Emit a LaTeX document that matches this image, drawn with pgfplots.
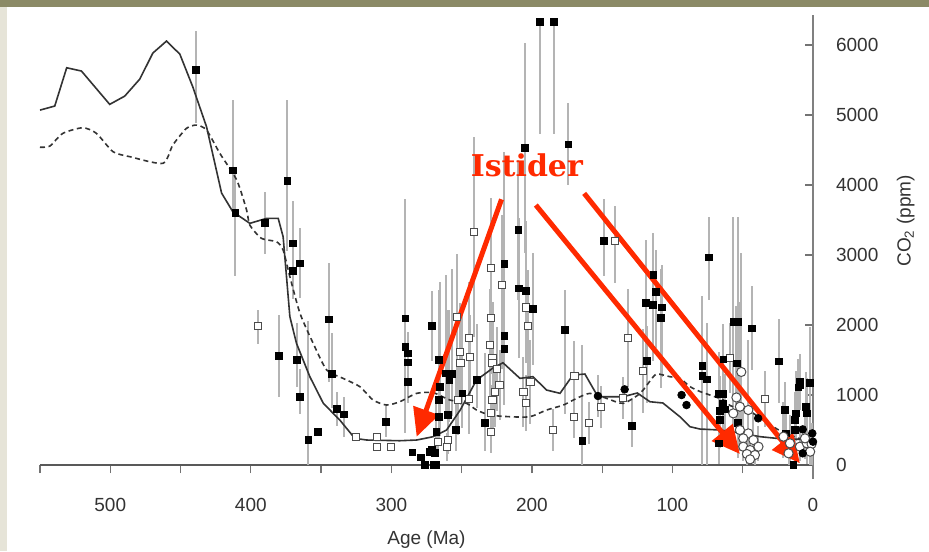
\documentclass[border=0pt]{standalone}
\usepackage{fontspec}
\setmainfont{Liberation Sans}
\newfontfamily\annofont{DejaVu Serif}
\usepackage{pgfplots}
\usepackage{pgfplotstable}
\pgfplotsset{compat=1.18}
\usetikzlibrary{arrows.meta}
\definecolor{frameolive}{HTML}{8B8A66}
\definecolor{framebeige}{HTML}{E6E4D8}
\definecolor{annored}{HTML}{FF2A00}
\definecolor{bargray}{HTML}{B4B4B4}
\definecolor{curvegray}{HTML}{333333}

% age (Ma), CO2 (ppm), error plus, error minus
\pgfplotstableread{
a c ep em
439 5640 560 760
413 4210 1000 600
411 3600 600 900
390 3460 440 440
374 4057 1160 1000
370 3167 600 600
365 2881 500 500
370 2771 400 400
380 1562 580 590
367 1500 530 380
365 976 400 250
359 357 1700 357
352 476 0 0
344.5 2081 800 900
342.5 1300 580 480
338.5 800 240 240
333.5 724 250 330
304 619 220 220
290 2095 1700 1640
290 1690 300 300
288 1595 300 300
288 1467 300 300
288 1190 300 300
285 181 0 0
279 110 0 0
276 0 0 0
271 214 0 0
268 0 0 0
269.5 0 0 0
272.5 190 0 0
269 176 0 0
271 1986 500 500
266 1500 1000 800
265.5 1119 1500 700
266 929 800 500
266 690 500 400
260 714 1500 400
268 476 500 300
261 1310 1400 600
256.7 1300 1500 600
258.7 1214 1000 600
249.5 1024 1200 500
254 500 800 300
239.4 1214 800 400
233.5 605 1000 400
219.6 2871 1600 1200
219.6 1843 800 800
219.6 1657 800 800
209 2524 1000 1000
204 2490 1000 1000
199.5 2229 800 800
209.6 3360 1000 1000
176.5 1929 570 1200
164 347 1370 347
149 3200 600 500
129 562 400 300
119 2319 900 1000
118.4 1490 500 600
113.5 2714 600 1200
111.7 2476 600 800
114 2286 700 800
107.7 2252 600 1000
108.4 2105 700 1000
74 2967 580 610
78.7 1414 1000 1414
78.7 1271 800 1271
75.6 1224 800 1224
67 1014 600 600
64 1014 600 600
64 871 500 500
66.5 776 500 500
62.6 795 500 500
66 643 400 400
67 310 300 300
63.7 1510 500 500
56.7 2048 1500 1000
53.3 2048 1500 1000
43.6 1952 600 600
54.3 1452 800 800
53.3 605 500 500
24 1481 600 600
20 786 400 400
12.8 500 400 300
9.3 1190 400 400
9.3 1143 300 300
2 1176 800 800
12 738 600 400
5 833 500 400
4.4 738 500 400
14 0 0 0
19 452 300 300
10.4 1110 400 400
12.8 643 400 400
205 4533 1500 1500
174 4581 590 580
194.3 6330 0 1600
184.3 6330 0 1600
}\fsq

\pgfplotstableread{
a c ep em
395 1986 230 250
325 405 0 0
310 405 0 0
310 262 0 0
300 252 0 0
241 3333 1350 1500
141 3204 500 600
229 2810 1000 1000
221 2571 1000 1200
229 2095 800 800
244.5 1810 800 800
251 1619 700 700
244 1538 600 600
250.8 1452 600 600
230 1714 800 800
228 1533 800 800
228 1452 700 700
225 1367 600 600
223 1143 500 500
226 1048 500 500
228 929 500 500
229 748 400 400
229 476 300 300
204 2252 800 800
203 1986 800 800
201 1190 600 600
206 1048 500 500
204 890 400 400
185 500 300 300
253.5 2119 900 900
244.5 938 500 500
252.5 929 500 500
259.6 357 200 200
260.6 262 200 200
266.6 333 200 200
169.7 1271 500 500
170 681 300 300
159.4 605 300 300
151 833 300 300
135 962 300 300
131.4 1810 700 700
121 1343 600 600
59 1524 500 500
34 938 400 400
}\osq

\pgfplotstableread{
a c ep em
51 1330 1700 900
54.5 965 1300 500
56.7 738 1200 400
46 786 1000 400
52 833 1500 500
52 500 800 300
46 452 600 300
49.6 381 500 300
42.4 357 400 300
38.8 262 300 200
49.6 262 300 200
44.8 214 300 200
47 157 200 150
41.3 143 200 140
44.8 81 0 0
21 405 500 300
16.4 310 400 300
9.3 262 300 200
4.4 310 400 300
1 300 300 300
17.4 167 200 160
2 190 200 190
5.7 381 400 300
}\ocirc

\pgfplotstableread{
a c ep em
153 986 300 300
134 1081 0 0
93.5 1000 0 0
90 857 0 0
39 667 0 0
7.3 167 0 0
7.3 509 0 0
0.5 452 0 0
0 333 0 0
}\fcirc

\pgfplotstableread{
a c
550 5071
539.5 5129
531 5676
520.5 5629
500.4 5153
489.7 5271
479 5514
469.7 5886
460 6057
450.5 5871
441.3 5404
431.5 4833
420.8 3886
412.8 3619
400.7 3453
388.8 3524
380.5 3524
377 3261
372.2 2119
367.5 1738
358 1262
348.4 881
336.7 643
326 381
317.6 357
294 347
282 357
270.4 404
260.7 500
251 786
239.4 1214
227.7 1386
220.6 1461
208.5 1238
199.3 1262
189.5 1071
180 1024
170.8 1286
162.3 1300
153 976
135 976
125 1029
116 904
106.8 886
94.7 690
87.5 547
80.4 514
66.2 500
52 457
37.7 405
23.5 376
9.3 367
0 357
}\geocarb

\pgfplotstableread{
a c
550 4540
543 4557
533.8 4738
519.6 4819
509.8 4738
498 4476
486 4405
462.6 4310
455.5 4571
445.8 4810
438.6 4857
431.5 4786
422 4452
410 4071
403 3643
400.7 3429
392.4 3238
381.7 3190
377 3071
372.2 2690
365 2167
355.6 1738
346 1357
334.3 1238
322.4 1119
313 929
303.5 857
294 904
282 1024
270.2 1033
258.4 929
246.5 881
239.4 786
229.9 714
215.7 690
201.4 690
189.5 786
177.6 857
168.2 952
158.7 1024
146.8 952
135 881
123 1024
116 1200
111.2 1300
101.8 1262
94.7 1238
87.5 1120
80.4 1050
73.3 1000
63.7 929
59 850
49.8 786
42.5 738
33 610
23.5 490
10 380
0 350
}\dashcurve

\begin{document}
\begin{tikzpicture}
\useasboundingbox (0,0) rectangle (464.5pt,-275.5pt);
\fill[framebeige] (0,0) rectangle (464.5pt,-275.5pt);
\fill[white] (3.5pt,-3.75pt) rectangle (464.5pt,-275.5pt);
\fill[frameolive] (0,0) rectangle (464.5pt,-3.75pt);
\begin{axis}[
    at={(20pt,-239.5pt)}, anchor=south west,
    scale only axis, width=386.5pt, height=232pt,
    x dir=reverse, xmin=0, xmax=550, ymin=-200, ymax=6430,
    axis x line*=middle, axis y line*=middle,
    yticklabel pos=right,
    x axis line style={black!65, line width=0.7pt, -},
    y axis line style={black!50, line width=1.1pt, -},
    xtick={0,100,200,300,400,500},
    minor xtick={50,150,250,350,450,550},
    ytick={0,1000,2000,3000,4000,5000,6000},
    xtick align=outside, ytick align=inside,
    major tick length=4pt, minor tick length=4pt,
    tick style={black!55, line width=0.6pt},
    hide obscured x ticks=false, hide obscured y ticks=false,
    /pgf/number format/assume math mode=true,
    /pgf/number format/1000 sep={},
    ticklabel style={font=\fontsize{9.5}{11}\selectfont, text=black!80},
    xticklabel style={yshift=-9pt},
    yticklabel style={anchor=west, xshift=8pt},
    xlabel={Age (Ma)}, ylabel={CO\textsubscript{2} (ppm)},
    every axis x label/.style={at={(axis cs:275,-1070)}, anchor=center,
        font=\fontsize{9.5}{11}\selectfont, text=black!80},
    every axis y label/.style={at={(axis cs:-66,3490)}, anchor=center, rotate=90,
        font=\fontsize{9.5}{11}\selectfont, text=black!80},
    clip=false,
]
% error bars first
\addplot[draw=none, mark=none, forget plot, error bars/.cd, y dir=both, y explicit,
    error mark=none, error bar style={draw=bargray, line width=1pt}]
    table[x=a, y=c, y error plus=ep, y error minus=em]{\fsq};
\addplot[draw=none, mark=none, forget plot, error bars/.cd, y dir=both, y explicit,
    error mark=none, error bar style={draw=bargray, line width=1pt}]
    table[x=a, y=c, y error plus=ep, y error minus=em]{\osq};
\addplot[draw=none, mark=none, forget plot, error bars/.cd, y dir=both, y explicit,
    error mark=none, error bar style={draw=bargray, line width=1pt}]
    table[x=a, y=c, y error plus=ep, y error minus=em]{\ocirc};
\addplot[draw=none, mark=none, forget plot, error bars/.cd, y dir=both, y explicit,
    error mark=none, error bar style={draw=bargray, line width=1pt}]
    table[x=a, y=c, y error plus=ep, y error minus=em]{\fcirc};
% model curves
\addplot[curvegray, line width=0.8pt, mark=none] table[x=a, y=c]{\geocarb};
\addplot[curvegray, line width=0.8pt, mark=none, dash pattern=on 2.5pt off 1.8pt, smooth, tension=0.4] table[x=a, y=c]{\dashcurve};
% proxy data
\addplot[only marks, mark=square*, mark size=1.8pt, mark options={fill=white, draw=black!70, line width=0.5pt}] table[x=a, y=c]{\osq};
\addplot[only marks, mark=square*, mark size=1.7pt, mark options={fill=black, draw=black}] table[x=a, y=c]{\fsq};
\addplot[only marks, mark=*, mark size=2.3pt, mark options={fill=white, draw=black!70, line width=0.5pt}] table[x=a, y=c]{\ocirc};
\addplot[only marks, mark=*, mark size=1.9pt, mark options={fill=black, draw=black}] table[x=a, y=c]{\fcirc};
% annotation
\draw[annored, line width=2.5pt, -{Triangle[length=14pt, width=13pt]}] (axis cs:221.6,3796) -- (axis cs:282,404);
\draw[annored, line width=2.5pt, -{Triangle[length=14pt, width=13pt]}] (axis cs:197.2,3714) -- (axis cs:52,157);
\draw[annored, line width=2.5pt, -{Triangle[length=14pt, width=13pt]}] (axis cs:162.8,3881) -- (axis cs:9.3,24);
\node[annored, font=\annofont\bfseries\fontsize{15}{18}\selectfont] at (axis cs:203.6,4286) {Istider};
\end{axis}
\end{tikzpicture}
\end{document}
